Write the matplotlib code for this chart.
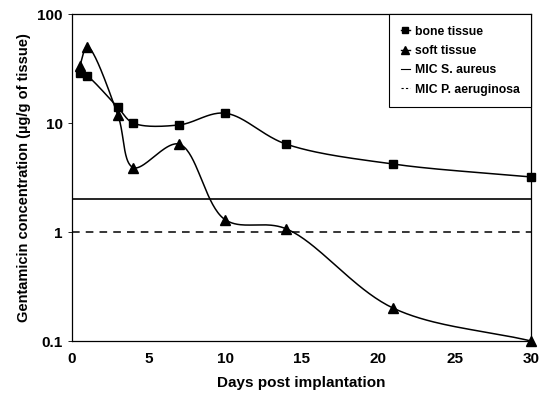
import numpy as np
import matplotlib.pyplot as plt
from matplotlib.lines import Line2D

plt.rcParams['font.family'] = ['Liberation Sans', 'DejaVu Sans']
plt.rcParams['font.weight'] = 'bold'

# data
days_bone = [0.5, 1, 3, 4, 7, 10, 14, 21, 30]
bone = [29, 27, 13.9, 10, 9.6, 12.3, 6.4, 4.2, 3.2]
days_soft = [0.5, 1, 3, 4, 7, 10, 14, 21, 30]
soft = [33, 50, 11.8, 3.9, 6.4, 1.3, 1.07, 0.2, 0.1]
mic_aureus = 2.0
mic_aerug = 1.0


def smooth(x, y, n=40):
    # centripetal catmull-rom through the points, done in screen-like units
    # (days * 15.3 px, decades * 108.7 px) so the curve looks like the original
    sx, sy = 15.3, 108.7
    P = np.column_stack([np.asarray(x, float) * sx, np.log10(np.asarray(y, float)) * sy])
    P = np.vstack([2 * P[0] - P[1], P, 2 * P[-1] - P[-2]])
    out = []
    for i in range(1, len(P) - 2):
        p0, p1, p2, p3 = P[i - 1], P[i], P[i + 1], P[i + 2]
        t0 = 0.0
        t1 = t0 + np.linalg.norm(p1 - p0) ** 0.5
        t2 = t1 + np.linalg.norm(p2 - p1) ** 0.5
        t3 = t2 + np.linalg.norm(p3 - p2) ** 0.5
        t = np.linspace(t1, t2, n)[:, None]
        a1 = (t1 - t) / (t1 - t0) * p0 + (t - t0) / (t1 - t0) * p1
        a2 = (t2 - t) / (t2 - t1) * p1 + (t - t1) / (t2 - t1) * p2
        a3 = (t3 - t) / (t3 - t2) * p2 + (t - t2) / (t3 - t2) * p3
        b1 = (t2 - t) / (t2 - t0) * a1 + (t - t0) / (t2 - t0) * a2
        b2 = (t3 - t) / (t3 - t1) * a2 + (t - t1) / (t3 - t1) * a3
        out.append((t2 - t) / (t2 - t1) * b1 + (t - t1) / (t2 - t1) * b2)
    out = np.vstack(out)
    return out[:, 0] / sx, 10 ** (out[:, 1] / sy)


fig = plt.figure(figsize=(5.42, 3.98), dpi=100)
ax = fig.add_axes([0.1328, 0.1432, 0.847, 0.8216])

bx, by = smooth(days_bone, bone)
sx, sy = smooth(days_soft, soft)
ax.plot(bx, by, color='black', lw=1.1)
ax.plot(days_bone, bone, 's', color='black', ms=5.5, ls='none', clip_on=False)
ax.plot(sx, sy, color='black', lw=1.1)
ax.plot(days_soft, soft, '^', color='black', ms=7, ls='none', clip_on=False)
ax.axhline(mic_aureus, color='black', lw=1.2)
ax.axhline(mic_aerug, color='black', lw=1.1, ls=(0, (5, 4)))

ax.set_yscale('log')
ax.set_xlim(0, 30)
ax.set_ylim(0.1, 100)
ax.set_xticks([0, 5, 10, 15, 20, 25, 30])
ax.set_yticks([0.1, 1, 10, 100])
ax.set_yticklabels(['0.1', '1', '10', '100'])
ax.minorticks_off()
ax.tick_params(axis='both', labelsize=11, length=3, width=0.6)
ax.tick_params(axis='x', length=0, pad=8)
for s in ax.spines.values():
    s.set_linewidth(0.9)

ax.set_xlabel('Days post implantation', fontsize=11, fontweight='bold', labelpad=7)
ax.set_ylabel('Gentamicin concentration (\u00b5g/g of tissue)', fontsize=10.5,
              fontweight='bold', labelpad=5)

handles = [
    Line2D([], [], color='black', lw=1, marker='s', ms=4.5),
    Line2D([], [], color='black', lw=1, marker='^', ms=6),
    Line2D([], [], color='black', lw=0.8),
    Line2D([], [], color='black', lw=0.8, ls=(0, (2, 2))),
]
labels = ['bone tissue', 'soft tissue', 'MIC S. aureus', 'MIC P. aeruginosa']
leg = ax.legend(handles, labels, loc='upper right', bbox_to_anchor=(1.0, 1.0),
                fontsize=8.8, handlelength=0.8, handletextpad=0.35,
                labelspacing=0.6, borderpad=0.95, fancybox=False,
                framealpha=1, edgecolor='black', borderaxespad=0)
leg.get_frame().set_linewidth(0.8)

fig.savefig('out.png', dpi=100)
